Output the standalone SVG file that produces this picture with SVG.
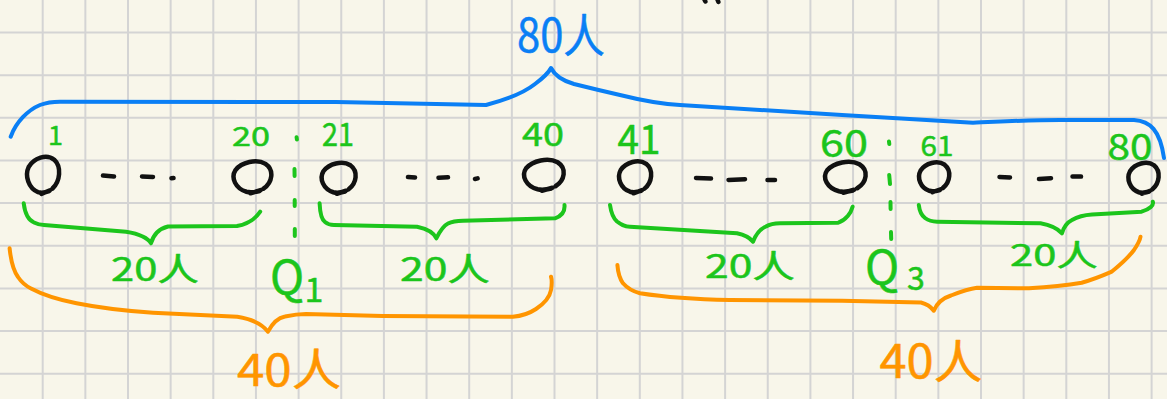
<svg xmlns="http://www.w3.org/2000/svg" width="1167" height="399" viewBox="0 0 1167 399">
<style>
.grid{stroke:#d4d4d4;stroke-width:2;fill:none}
.ink{fill:none;stroke-linecap:round;stroke-linejoin:round}
.blue{stroke:#0a7ff5;stroke-width:4}
.green{stroke:#1cc51c;stroke-width:4}
.orange{stroke:#ff9500;stroke-width:4}
.black{stroke:#111;stroke-width:4.5}
.t{font-family:"Noto Sans CJK SC","Noto Sans",sans-serif;stroke-linejoin:round;paint-order:stroke}
.tg{fill:#1cc51c;stroke:#1cc51c;stroke-width:0.5}
.tb{fill:#0a7ff5;stroke:#0a7ff5;stroke-width:0.5}
.to{fill:#ff9500;stroke:#ff9500;stroke-width:0.5}
.o{fill:none;stroke:#111;stroke-width:4.5;stroke-linecap:round;stroke-linejoin:round}
</style>
<rect width="1167" height="399" fill="#f8f6ea"/>
<path class="grid" d="M42.7,0V399M85.35,0V399M128,0V399M170.65,0V399M213.3,0V399M255.95,0V399M298.6,0V399M341.25,0V399M383.9,0V399M426.55,0V399M469.2,0V399M511.85,0V399M554.5,0V399M597.15,0V399M639.8,0V399M682.45,0V399M725.1,0V399M767.75,0V399M810.4,0V399M853.05,0V399M895.7,0V399M938.35,0V399M981,0V399M1023.65,0V399M1066.3,0V399M1108.95,0V399M1151.6,0V399M0,32.5H1167M0,75.15H1167M0,117.8H1167M0,160.45H1167M0,203.1H1167M0,245.75H1167M0,288.4H1167M0,331.05H1167M0,373.7H1167"/>

<g id="connectors">
  <path class="ink blue" d="M10.7,136.7 C16,122 28,110 40,105 C48,102 52,101.7 60,101.7 L336,102 L486,105 C505,100 525,92 535,84 C543,78 549,72 551,68 C554,74 560,80 574,84 C590,88 598,90 620,95 C640,100 660,104 680,105 L842,115 L973,122.7 C1010,121 1029,120 1060,120 L1134,120 C1150,121 1160,130 1164,158"/>
  <path class="ink green" d="M23.7,203.3 C25,214 28,220 34,222.5 C38,224.5 40,225 44,225 L126,231.7 C140,234 148,238 151,243.3 C153,236 158,229 168,226.5 L237,226 C248,224 256,218 260.2,211.7"/>
  <path class="ink green" d="M319.6,203.3 C320,212 321,219 325,222 C328,224.5 330,225 334,225 L417,226.7 C428,229 434,233 436.3,238.3 C440,231 443,226 448,223.5 C452,221.5 456,220.8 463,220.7 L555,218.3 C562,216 565,211 564.5,205"/>
  <path class="ink green" d="M610,205 C611,212 613,218 617,221.5 C621,224.5 624,226.7 630,226.7 L737,233.3 C745,235 750,238 753,241.7 C756,234 760,229 766,226.5 C770,224 774,223.3 780,223.3 L838.3,222.7 C846,220 851,213 852.6,206.7"/>
  <path class="ink green" d="M918.8,205 C919.5,211 921,215 925,218 C929,221 932,221.7 937,221.7 L1040.5,223.3 C1050,225 1058,229 1062,233.3 C1064,226 1068,222 1072,220 C1078,216.5 1084,215 1092,214.5 L1141.6,211.7 C1150,209 1154,205 1152.8,201.7"/>
  <path class="ink orange" d="M9.6,248.3 C11,262 13,270 18,277 C22,283 26,286 31,288.5 C45,296 60,300 76.5,303.3 C100,308 125,311 153,312.7 L237.3,316.7 C252,319 262,324 268,331.7 C272,324 277,318 285,316.5 C292,315 298,314 306,314 L382.7,316 L512.8,316.7 C522,316 530,313 536,309 C545,303 550,296 551,290 C552,284 552,280 551,276.7"/>
  <path class="ink orange" d="M617.4,265 C618,273 620,279 623,283.3 C628,289 633,291.5 640,293.3 C670,298 700,299.5 729.8,300 L842,300.7 L921,302.5 C927,304 931,307 933.8,310.7 C937,303 943,298 951,295.5 C960,292 968,289 977,287.8 L1029,288.3 C1050,287 1068,285 1081.7,282.7 C1095,279 1104,275 1111.6,271.7 C1120,265 1128,258 1134,250 C1138,244 1140,240 1140.5,236.7"/>
  <path class="ink green" d="M296.6,137.2 L296.9,139.6 M294.5,169 L294.6,176 M294.7,200 L294.7,206 M294.8,229 L294.8,236 M889,141.5 L889.3,144 M889.2,175 L890,184 M890.5,202 L890.6,209 M891,232 L891.2,239"/>
  <path class="ink black" d="M103,175.5 L114,176.5 M142,176.5 L153,177 M171.5,178.2 L173.5,178 M408,177 L415,177.5 M438.5,177.8 L448,177.3 M475,179 L477.6,178.4 M696,178 L711,178.6 M728.5,180 L745,179.2 M767.5,180 L775,180 M999.5,177 L1010,177.5 M1039,179 L1051,178.2 M1072.5,176.5 L1081,176.6 M704.6,0 L705.4,1.5 M717.6,0 L718.4,2"/>
</g>

<g id="node-1">
  <path class="o" vector-effect="non-scaling-stroke" transform="translate(44,175) scale(17,18)" d="M0.5,0.75 C0.95,0.35 1.05,-0.45 0.6,-0.85 C0.15,-1.2 -0.6,-0.95 -0.9,-0.45 C-1.15,0.05 -0.9,0.75 -0.35,0.95 C-0.1,1.03 0.15,0.95 0.3,0.9 M-0.15,1.05 L0.35,0.85"/>
  <text class="t tg" x="55.5" y="145" font-size="27" text-anchor="middle">1</text>
</g>
<g id="node-20">
  <path class="o" vector-effect="non-scaling-stroke" transform="translate(253.5,177) scale(20,15.5)" d="M0.5,0.75 C0.95,0.35 1.05,-0.45 0.6,-0.85 C0.15,-1.2 -0.6,-0.95 -0.9,-0.45 C-1.15,0.05 -0.9,0.75 -0.35,0.95 C-0.1,1.03 0.15,0.95 0.3,0.9 M-0.15,1.05 L0.35,0.85"/>
  <text class="t tg" x="251" y="146" font-size="26" text-anchor="middle" textLength="38" lengthAdjust="spacingAndGlyphs">20</text>
</g>
<g id="node-21">
  <path class="o" vector-effect="non-scaling-stroke" transform="translate(339.6,178) scale(18,15)" d="M0.5,0.75 C0.95,0.35 1.05,-0.45 0.6,-0.85 C0.15,-1.2 -0.6,-0.95 -0.9,-0.45 C-1.15,0.05 -0.9,0.75 -0.35,0.95 C-0.1,1.03 0.15,0.95 0.3,0.9 M-0.15,1.05 L0.35,0.85"/>
  <text class="t tg" x="338" y="146" font-size="32" text-anchor="middle" textLength="32" lengthAdjust="spacingAndGlyphs">21</text>
</g>
<g id="node-40">
  <path class="o" vector-effect="non-scaling-stroke" transform="translate(545,175) scale(21,15)" d="M0.5,0.75 C0.95,0.35 1.05,-0.45 0.6,-0.85 C0.15,-1.2 -0.6,-0.95 -0.9,-0.45 C-1.15,0.05 -0.9,0.75 -0.35,0.95 C-0.1,1.03 0.15,0.95 0.3,0.9 M-0.15,1.05 L0.35,0.85"/>
  <text class="t tg" x="543" y="146" font-size="32" text-anchor="middle" textLength="42" lengthAdjust="spacingAndGlyphs">40</text>
</g>
<g id="node-41">
  <path class="o" vector-effect="non-scaling-stroke" transform="translate(636,177) scale(17,15.5)" d="M0.5,0.75 C0.95,0.35 1.05,-0.45 0.6,-0.85 C0.15,-1.2 -0.6,-0.95 -0.9,-0.45 C-1.15,0.05 -0.9,0.75 -0.35,0.95 C-0.1,1.03 0.15,0.95 0.3,0.9 M-0.15,1.05 L0.35,0.85"/>
  <text class="t tg" x="639" y="154" font-size="40" text-anchor="middle" textLength="43" lengthAdjust="spacingAndGlyphs">41</text>
</g>
<g id="node-60">
  <path class="o" vector-effect="non-scaling-stroke" transform="translate(846.5,177) scale(21.5,15)" d="M0.5,0.75 C0.95,0.35 1.05,-0.45 0.6,-0.85 C0.15,-1.2 -0.6,-0.95 -0.9,-0.45 C-1.15,0.05 -0.9,0.75 -0.35,0.95 C-0.1,1.03 0.15,0.95 0.3,0.9 M-0.15,1.05 L0.35,0.85"/>
  <text class="t tg" x="844" y="157" font-size="38" text-anchor="middle" textLength="48" lengthAdjust="spacingAndGlyphs">60</text>
</g>
<g id="node-61">
  <path class="o" vector-effect="non-scaling-stroke" transform="translate(935,177) scale(16,14.5)" d="M0.5,0.75 C0.95,0.35 1.05,-0.45 0.6,-0.85 C0.15,-1.2 -0.6,-0.95 -0.9,-0.45 C-1.15,0.05 -0.9,0.75 -0.35,0.95 C-0.1,1.03 0.15,0.95 0.3,0.9 M-0.15,1.05 L0.35,0.85"/>
  <text class="t tg" x="937" y="156" font-size="28" text-anchor="middle" textLength="33" lengthAdjust="spacingAndGlyphs">61</text>
</g>
<g id="node-80">
  <path class="o" vector-effect="non-scaling-stroke" transform="translate(1144.4,178) scale(16,15)" d="M0.5,0.75 C0.95,0.35 1.05,-0.45 0.6,-0.85 C0.15,-1.2 -0.6,-0.95 -0.9,-0.45 C-1.15,0.05 -0.9,0.75 -0.35,0.95 C-0.1,1.03 0.15,0.95 0.3,0.9 M-0.15,1.05 L0.35,0.85"/>
  <text class="t tg" x="1130" y="160" font-size="36" text-anchor="middle" textLength="45" lengthAdjust="spacingAndGlyphs">80</text>
</g>

<g id="labels">
  <text class="t tb" x="561" y="52" font-size="46" text-anchor="middle" textLength="88" lengthAdjust="spacingAndGlyphs">80人</text>
  <text class="t tg" x="155" y="281" font-size="32" text-anchor="middle" textLength="88" lengthAdjust="spacingAndGlyphs">20人</text>
  <text class="t tg" x="445" y="281" font-size="32" text-anchor="middle" textLength="90" lengthAdjust="spacingAndGlyphs">20人</text>
  <text class="t tg" x="750" y="278" font-size="32" text-anchor="middle" textLength="90" lengthAdjust="spacingAndGlyphs">20人</text>
  <text class="t tg" x="1054" y="266" font-size="30" text-anchor="middle" textLength="88" lengthAdjust="spacingAndGlyphs">20人</text>
  <text class="t tg"><tspan x="287" y="294" font-size="46" text-anchor="middle">Q</tspan><tspan x="314" y="302" font-size="34" text-anchor="middle">1</tspan></text>
  <text class="t tg"><tspan x="882" y="284" font-size="46" text-anchor="middle">Q</tspan><tspan x="916" y="290" font-size="32" text-anchor="middle">3</tspan></text>
  <text class="t to" x="289" y="386" font-size="44" text-anchor="middle" textLength="104" lengthAdjust="spacingAndGlyphs">40人</text>
  <text class="t to" x="931" y="378" font-size="46" text-anchor="middle" textLength="103" lengthAdjust="spacingAndGlyphs">40人</text>
</g>
</svg>
